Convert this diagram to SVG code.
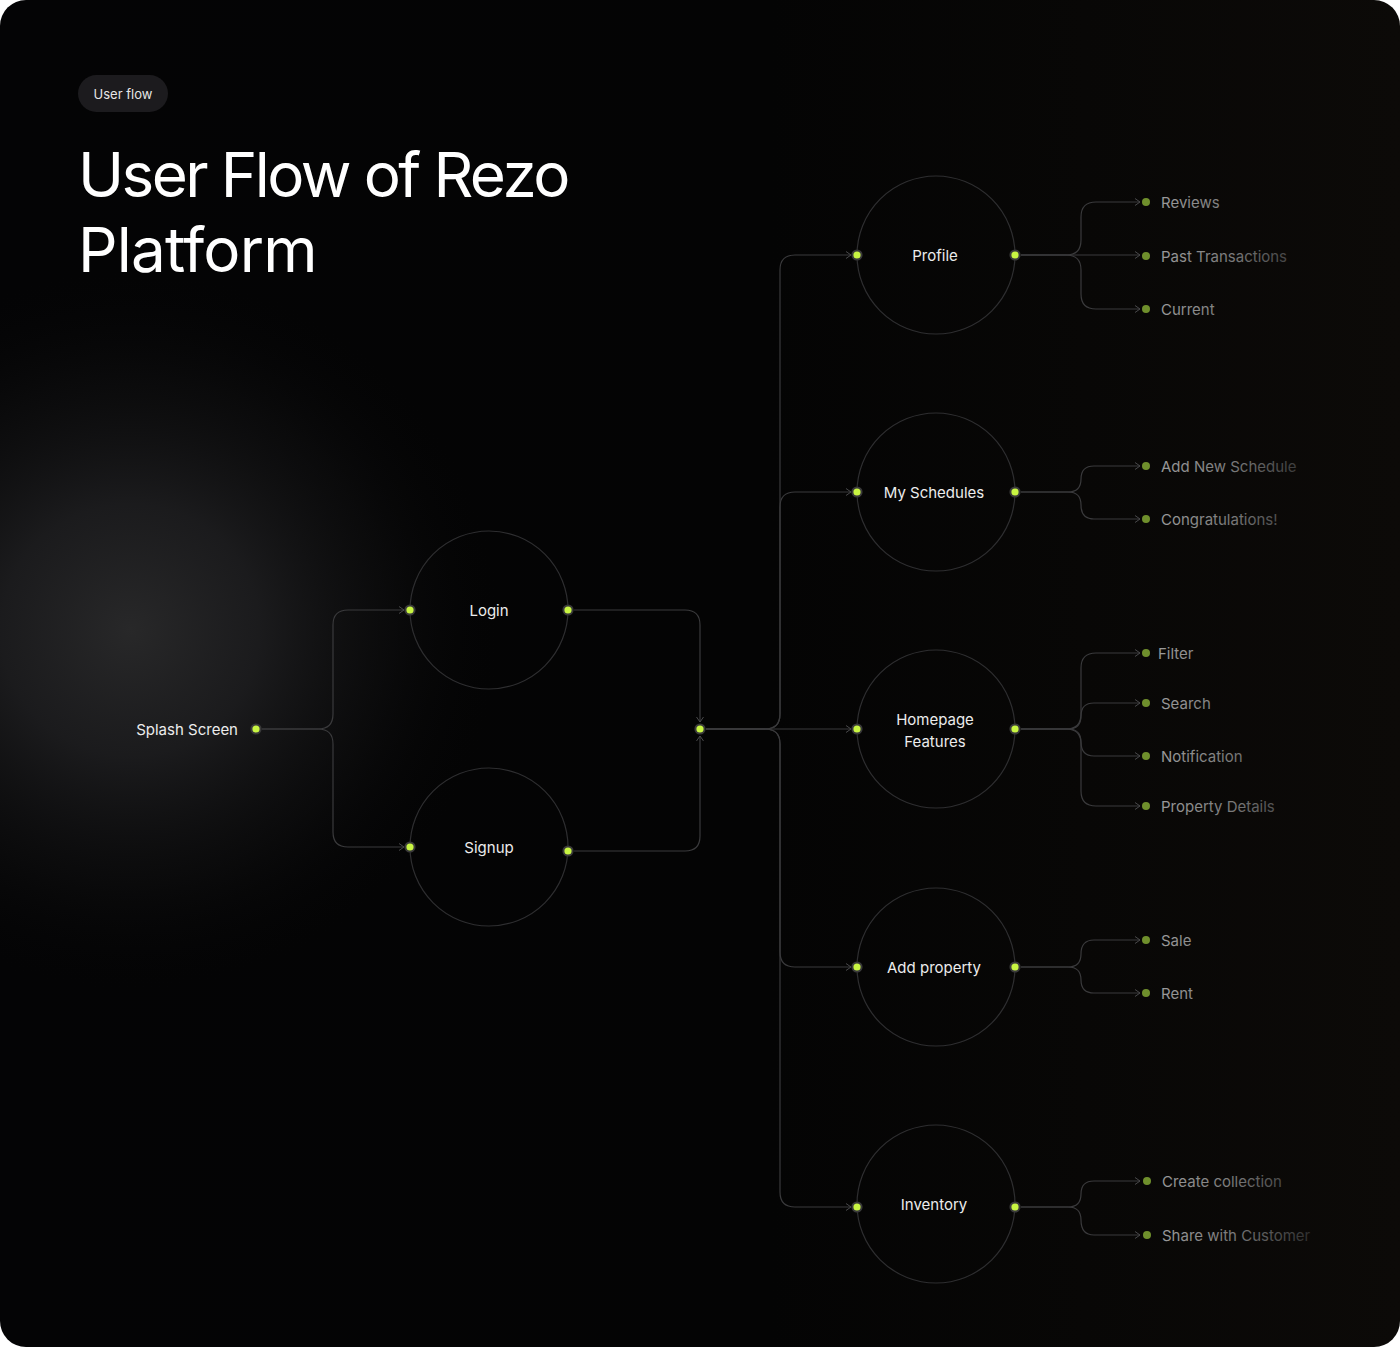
<svg xmlns="http://www.w3.org/2000/svg" width="1400" height="1347" viewBox="0 0 1400 1347">
<defs>
<linearGradient id="bgLin" x1="0" y1="0" x2="1" y2="0">
<stop offset="0" stop-color="#040405"/>
<stop offset="0.55" stop-color="#040404"/>
<stop offset="1" stop-color="#0c0a08"/>
</linearGradient>
<radialGradient id="glow" cx="0" cy="0" r="1" gradientUnits="userSpaceOnUse" gradientTransform="translate(130 630) scale(370 360)">
<stop offset="0" stop-color="#282829" stop-opacity="1"/>
<stop offset="0.35" stop-color="#1f1f21" stop-opacity="0.85"/>
<stop offset="0.7" stop-color="#121213" stop-opacity="0.45"/>
<stop offset="1" stop-color="#050506" stop-opacity="0"/>
</radialGradient>
<linearGradient id="leafText" x1="1160" y1="0" x2="1320" y2="0" gradientUnits="userSpaceOnUse">
<stop offset="0" stop-color="#9a9a9a"/>
<stop offset="0.45" stop-color="#7a7a7a"/>
<stop offset="1" stop-color="#252525"/>
</linearGradient>
<marker id="arr" viewBox="0 0 6 8" refX="5.5" refY="4" markerWidth="6" markerHeight="8" markerUnits="userSpaceOnUse" orient="auto">
<path d="M0.5 0.5 L5.5 4 L0.5 7.5" fill="none" stroke="#4a4a4c" stroke-width="1"/>
</marker>
<clipPath id="frame"><rect x="0" y="0" width="1400" height="1347" rx="26"/></clipPath>
</defs>
<style>
.line{fill:none;stroke:#3a3a3c;stroke-width:1.2}
.node{fill:none;stroke:#2e2e30;stroke-width:1.2}
.dot{fill:#c8f542;stroke:#3a3a3a;stroke-width:2}
.ldot{fill:#6f8f2c}
.lbl{font-family:Inter,"Noto Sans",sans-serif;font-size:15px;fill:#ececec}
.leaf{font-family:Inter,"Noto Sans",sans-serif;font-size:15px;fill:url(#leafText)}
</style>
<rect x="0" y="0" width="1400" height="1347" fill="#ffffff"/>
<g clip-path="url(#frame)">
<rect x="0" y="0" width="1400" height="1347" fill="url(#bgLin)"/>
<rect x="0" y="0" width="1400" height="1347" fill="url(#glow)"/>
</g>
<g id="header">
<rect x="78" y="75" width="90" height="37" rx="18.5" fill="#1c1b1e"/>
<text x="123" y="98.5" text-anchor="middle" font-family="Inter,'Noto Sans',sans-serif" font-size="13" fill="#e6e6e6">User flow</text>
<text x="78" y="197" font-family="Inter,'Noto Sans',sans-serif" font-size="62" fill="#ffffff" letter-spacing="-2.6">User Flow of Rezo</text>
<text x="78" y="272" font-family="Inter,'Noto Sans',sans-serif" font-size="62" fill="#ffffff" letter-spacing="-0.8">Platform</text>
</g>
<g id="connectors">
<path class="line" d="M262 729 H318 Q333 729 333 714 V625 Q333 610 348 610 H404" marker-end="url(#arr)"/>
<path class="line" d="M262 729 H318 Q333 729 333 744 V832 Q333 847 348 847 H404" marker-end="url(#arr)"/>
<path class="line" d="M574 610 H685 Q700 610 700 625 V722" marker-end="url(#arr)"/>
<path class="line" d="M574 851 H685 Q700 851 700 836 V736" marker-end="url(#arr)"/>
<path class="line" d="M706 729 H851" marker-end="url(#arr)"/>
<path class="line" d="M706 729 H765 Q780 729 780 714 V270 Q780 255 795 255 H851" marker-end="url(#arr)"/>
<path class="line" d="M706 729 H765 Q780 729 780 714 V507 Q780 492 795 492 H851" marker-end="url(#arr)"/>
<path class="line" d="M706 729 H765 Q780 729 780 744 V952 Q780 967 795 967 H851" marker-end="url(#arr)"/>
<path class="line" d="M706 729 H765 Q780 729 780 744 V1192 Q780 1207 795 1207 H851" marker-end="url(#arr)"/>
<path class="line" d="M1021 255 H1066 Q1081 255 1081 240 V217 Q1081 202 1096 202 H1140" marker-end="url(#arr)"/>
<path class="line" d="M1021 255 H1140" marker-end="url(#arr)"/>
<path class="line" d="M1021 255 H1066 Q1081 255 1081 270 V294 Q1081 309 1096 309 H1140" marker-end="url(#arr)"/>
<path class="line" d="M1021 492 H1068 Q1081 492 1081 479 Q1081 466 1094 466 H1140" marker-end="url(#arr)"/>
<path class="line" d="M1021 492 H1068 Q1081 492 1081 505 Q1081 519 1094 519 H1140" marker-end="url(#arr)"/>
<path class="line" d="M1021 729 H1066 Q1081 729 1081 714 V668 Q1081 653 1096 653 H1140" marker-end="url(#arr)"/>
<path class="line" d="M1021 729 H1068 Q1081 729 1081 716 Q1081 703 1094 703 H1140" marker-end="url(#arr)"/>
<path class="line" d="M1021 729 H1068 Q1081 729 1081 742 Q1081 756 1094 756 H1140" marker-end="url(#arr)"/>
<path class="line" d="M1021 729 H1066 Q1081 729 1081 744 V791 Q1081 806 1096 806 H1140" marker-end="url(#arr)"/>
<path class="line" d="M1021 967 H1068 Q1081 967 1081 954 Q1081 940 1094 940 H1140" marker-end="url(#arr)"/>
<path class="line" d="M1021 967 H1068 Q1081 967 1081 980 Q1081 993 1094 993 H1140" marker-end="url(#arr)"/>
<path class="line" d="M1021 1207 H1068 Q1081 1207 1081 1194 Q1081 1181 1094 1181 H1140" marker-end="url(#arr)"/>
<path class="line" d="M1021 1207 H1068 Q1081 1207 1081 1220 Q1081 1235 1094 1235 H1140" marker-end="url(#arr)"/>
</g>
<g id="splash">
<text class="lbl" x="238" y="735" text-anchor="end">Splash Screen</text>
<circle class="dot" cx="256" cy="729" r="4.6"/>
</g>
<g id="login">
<circle class="node" cx="489" cy="610" r="79"/>
<text class="lbl" x="489" y="616" text-anchor="middle">Login</text>
<circle class="dot" cx="410" cy="610" r="4.6"/>
<circle class="dot" cx="568" cy="610" r="4.6"/>
</g>
<g id="signup">
<circle class="node" cx="489" cy="847" r="79"/>
<text class="lbl" x="489" y="853" text-anchor="middle">Signup</text>
<circle class="dot" cx="410" cy="847" r="4.6"/>
<circle class="dot" cx="568" cy="851" r="4.6"/>
</g>
<g id="join">
<circle class="dot" cx="700" cy="729" r="4.6"/>
</g>
<g id="profile">
<circle class="node" cx="936" cy="255" r="79"/>
<text class="lbl" x="935" y="261" text-anchor="middle">Profile</text>
<circle class="dot" cx="857" cy="255" r="4.6"/>
<circle class="dot" cx="1015" cy="255" r="4.6"/>
</g>
<g id="schedules">
<circle class="node" cx="936" cy="492" r="79"/>
<text class="lbl" x="934" y="498" text-anchor="middle">My Schedules</text>
<circle class="dot" cx="857" cy="492" r="4.6"/>
<circle class="dot" cx="1015" cy="492" r="4.6"/>
</g>
<g id="homepage">
<circle class="node" cx="936" cy="729" r="79"/>
<text class="lbl" x="935" y="725" text-anchor="middle">Homepage</text>
<text class="lbl" x="935" y="747" text-anchor="middle">Features</text>
<circle class="dot" cx="857" cy="729" r="4.6"/>
<circle class="dot" cx="1015" cy="729" r="4.6"/>
</g>
<g id="addproperty">
<circle class="node" cx="936" cy="967" r="79"/>
<text class="lbl" x="934" y="973" text-anchor="middle">Add property</text>
<circle class="dot" cx="857" cy="967" r="4.6"/>
<circle class="dot" cx="1015" cy="967" r="4.6"/>
</g>
<g id="inventory">
<circle class="node" cx="936" cy="1204" r="79"/>
<text class="lbl" x="934" y="1210" text-anchor="middle">Inventory</text>
<circle class="dot" cx="857" cy="1207" r="4.6"/>
<circle class="dot" cx="1015" cy="1207" r="4.6"/>
</g>
<g id="leaves">
<g id="leaf-reviews"><circle class="ldot" cx="1146" cy="202" r="4"/><text class="leaf" x="1161" y="207.5">Reviews</text></g>
<g id="leaf-past"><circle class="ldot" cx="1146" cy="256" r="4"/><text class="leaf" x="1161" y="261.5">Past Transactions</text></g>
<g id="leaf-current"><circle class="ldot" cx="1146" cy="309" r="4"/><text class="leaf" x="1161" y="314.5">Current</text></g>
<g id="leaf-addnew"><circle class="ldot" cx="1146" cy="466" r="4"/><text class="leaf" x="1161" y="471.5">Add New Schedule</text></g>
<g id="leaf-congrats"><circle class="ldot" cx="1146" cy="519" r="4"/><text class="leaf" x="1161" y="524.5">Congratulations!</text></g>
<g id="leaf-filter"><circle class="ldot" cx="1146" cy="653" r="4"/><text class="leaf" x="1158" y="658.5">Filter</text></g>
<g id="leaf-search"><circle class="ldot" cx="1146" cy="703" r="4"/><text class="leaf" x="1161" y="708.5">Search</text></g>
<g id="leaf-notif"><circle class="ldot" cx="1146" cy="756" r="4"/><text class="leaf" x="1161" y="761.5">Notification</text></g>
<g id="leaf-propdetails"><circle class="ldot" cx="1146" cy="806" r="4"/><text class="leaf" x="1161" y="811.5">Property Details</text></g>
<g id="leaf-sale"><circle class="ldot" cx="1146" cy="940" r="4"/><text class="leaf" x="1161" y="945.5">Sale</text></g>
<g id="leaf-rent"><circle class="ldot" cx="1146" cy="993" r="4"/><text class="leaf" x="1161" y="998.5">Rent</text></g>
<g id="leaf-create"><circle class="ldot" cx="1147" cy="1181" r="4"/><text class="leaf" x="1162" y="1186.5">Create collection</text></g>
<g id="leaf-share"><circle class="ldot" cx="1147" cy="1235" r="4"/><text class="leaf" x="1162" y="1240.5">Share with Customer</text></g>
</g>
</svg>
